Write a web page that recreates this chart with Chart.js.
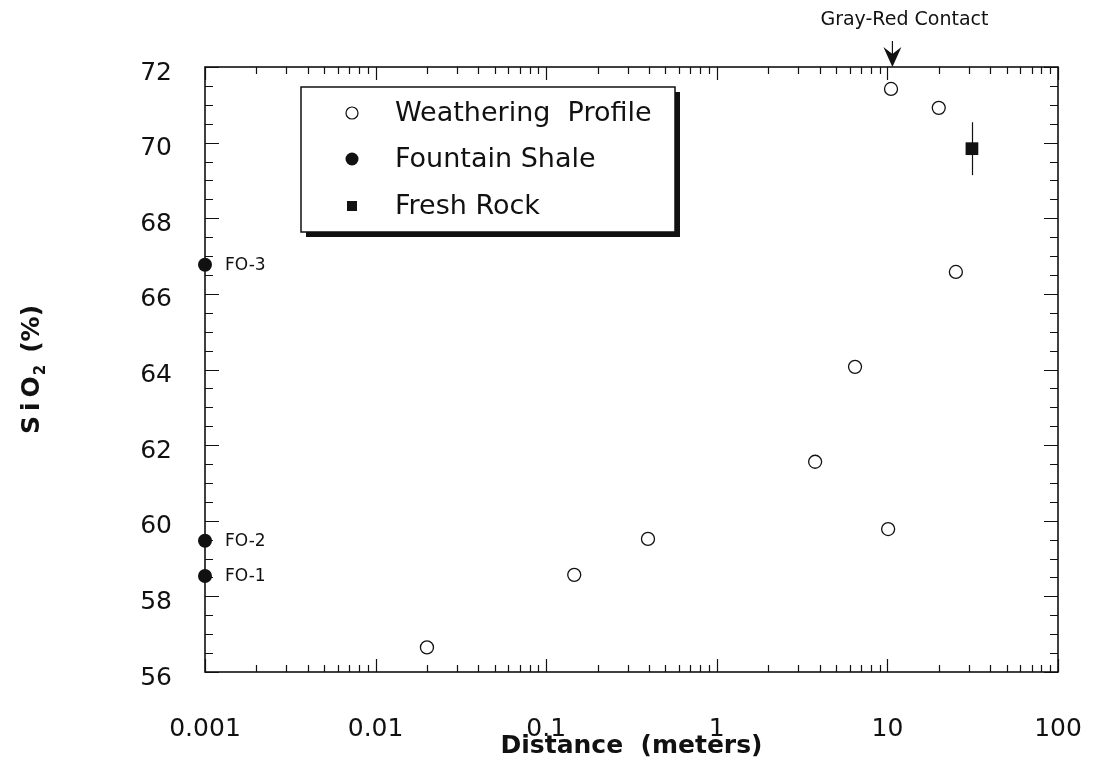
<!DOCTYPE html>
<html>
<head>
<meta charset="utf-8">
<script src="https://cdn.jsdelivr.net/npm/chart.js@4.4.1/dist/chart.umd.min.js"></script>
<style>
  html, body { margin: 0; padding: 0; background: #fff; }
  #wrap { width: 1096px; height: 775px; }
</style>
</head>
<body>
<div id="wrap"><canvas id="chart" width="1096" height="775"></canvas></div>
<script>
// weathering profile samples (open circles)
const weatherX = [0.02, 0.146, 0.395, 3.77, 6.46, 10.1, 10.5, 20, 25.2];
const weatherY = [56.65, 58.57, 59.52, 61.56, 64.07, 59.78, 71.42, 70.92, 66.58];

// fountain shale samples, plotted at the left edge
const shaleX = [0.001, 0.001, 0.001];
const shaleY = [58.54, 59.47, 66.77];
const shaleLabels = ['FO-1', 'FO-2', 'FO-3'];

// fresh rock, with its error bar
const freshX = [31.3];
const freshY = [69.84];
const freshErr = [0.7];

const contactX = 10.7;
const contactLabel = 'Gray-Red Contact';

const xTickValues = [0.001, 0.01, 0.1, 1, 10, 100];
const xTickLabels = ['0.001', '0.01', '0.1', '1', '10', '100'];
const yTickValues = [56, 58, 60, 62, 64, 66, 68, 70, 72];

const INK = '#111';
const FONT = '"DejaVu Sans", sans-serif';

const toPts = (xs, ys) => xs.map((x, i) => ({ x: x, y: ys[i] }));

// frame, inward ticks on all four sides, error bar
const framePlugin = {
    id: 'frame',
    beforeDatasetsDraw(chart) {
        const ctx = chart.ctx;
        const { left, right, top, bottom } = chart.chartArea;
        const xs = chart.scales.x, ys = chart.scales.y;
        ctx.save();
        ctx.strokeStyle = INK;
        ctx.lineWidth = 1.2;
        // x ticks: decades long, 2..9 short
        for (let d = 0; d < xTickValues.length; d++) {
            const dec = xTickValues[d];
            for (let m = 1; m <= 9; m++) {
                const v = dec * m;
                if (v > xTickValues[xTickValues.length - 1] + 1e-9) break;
                const px = Math.round(xs.getPixelForValue(v)) + 0.5;
                const len = m === 1 ? 13 : 7;
                ctx.beginPath();
                ctx.moveTo(px, bottom); ctx.lineTo(px, bottom - len);
                ctx.moveTo(px, top); ctx.lineTo(px, top + len);
                ctx.stroke();
            }
        }
        // y ticks: every 2 long, every 0.5 short
        const yMin = yTickValues[0], yMax = yTickValues[yTickValues.length - 1];
        for (let v = yMin; v <= yMax + 1e-9; v += 0.5) {
            const py = Math.round(ys.getPixelForValue(v)) + 0.5;
            const len = (v % 2 === 0) ? 14 : 8;
            ctx.beginPath();
            ctx.moveTo(left, py); ctx.lineTo(left + len, py);
            ctx.moveTo(right, py); ctx.lineTo(right - len, py);
            ctx.stroke();
        }
        ctx.lineWidth = 1.6;
        ctx.strokeRect(left, top, right - left, bottom - top);

        // fresh rock error bar
        ctx.lineWidth = 1.2;
        freshX.forEach((x, i) => {
            const px = Math.round(xs.getPixelForValue(x)) + 0.5;
            ctx.beginPath();
            ctx.moveTo(px, ys.getPixelForValue(freshY[i] + freshErr[i]));
            ctx.lineTo(px, ys.getPixelForValue(freshY[i] - freshErr[i]));
            ctx.stroke();
        });
        ctx.restore();
    },
    afterDatasetsDraw(chart) {
        const ctx = chart.ctx;
        const { top, bottom } = chart.chartArea;
        const xs = chart.scales.x, ys = chart.scales.y;
        ctx.save();
        ctx.fillStyle = INK;
        ctx.strokeStyle = INK;

        // sample names next to the shale points
        ctx.font = '17px ' + FONT;
        ctx.textAlign = 'left';
        ctx.textBaseline = 'middle';
        shaleX.forEach((x, i) => {
            ctx.fillText(shaleLabels[i], xs.getPixelForValue(x) + 20, ys.getPixelForValue(shaleY[i]) + 1);
        });

        // gray-red contact arrow
        const ax = xs.getPixelForValue(contactX);
        ctx.lineWidth = 1.2;
        ctx.beginPath();
        ctx.moveTo(ax, top - 26); ctx.lineTo(ax, top - 10);
        ctx.stroke();
        ctx.beginPath();
        ctx.moveTo(ax - 9, top - 20);
        ctx.lineTo(ax, top - 13);
        ctx.lineTo(ax + 9, top - 20);
        ctx.lineTo(ax, top);
        ctx.closePath();
        ctx.fill();
        ctx.font = '19px ' + FONT;
        ctx.textAlign = 'center';
        ctx.textBaseline = 'middle';
        ctx.fillText(contactLabel, ax + 12, top - 47);

        // legend box with drop shadow
        const lx = 301, ly = 87, lw = 374, lh = 145;
        ctx.fillRect(lx + 5, ly + 5, lw, lh);
        ctx.fillStyle = '#fff';
        ctx.fillRect(lx, ly, lw, lh);
        ctx.lineWidth = 1.5;
        ctx.strokeRect(lx, ly, lw, lh);
        ctx.fillStyle = INK;
        const rows = [26, 72, 119];
        ctx.font = '27px ' + FONT;
        ctx.textAlign = 'left';
        chart.data.datasets.forEach((ds, i) => {
            const cy = ly + rows[i];
            const cx = lx + 51;
            ctx.beginPath();
            if (ds.pointStyle === 'rect') {
                ctx.fillRect(cx - 5, cy - 5, 10, 10);
            } else if (ds.legendFilled) {
                ctx.arc(cx, cy, 6.5, 0, Math.PI * 2);
                ctx.fill();
            } else {
                ctx.lineWidth = 1.2;
                ctx.arc(cx, cy, 6, 0, Math.PI * 2);
                ctx.stroke();
            }
            ctx.fillText(ds.label, lx + 94, cy + 1);
        });

        // y axis title with subscript
        ctx.translate(32, (top + bottom) / 2);
        ctx.rotate(-Math.PI / 2);
        ctx.textBaseline = 'middle';
        const big = 'bold 25px ' + FONT, small = 'bold 15px ' + FONT;
        const parts = [['S', big, 0, 5], ['i', big, 0, 5], ['O', big, 0, 1], ['2', small, 9, 12], ['(%)', big, 0, 0]];
        let total = 0;
        parts.forEach(p => { ctx.font = p[1]; total += ctx.measureText(p[0]).width + p[3]; });
        let tx = -total / 2;
        parts.forEach(p => {
            ctx.font = p[1];
            ctx.fillText(p[0], tx, p[2]);
            tx += ctx.measureText(p[0]).width + p[3];
        });
        ctx.restore();
    }
};

new Chart(document.getElementById('chart'), {
    type: 'scatter',
    data: {
        datasets: [
            {
                label: 'Weathering  Profile',
                data: toPts(weatherX, weatherY),
                pointStyle: 'circle',
                pointRadius: 6.5,
                pointBackgroundColor: 'rgba(255,255,255,0)',
                pointBorderColor: INK,
                pointBorderWidth: 1.3,
                clip: false
            },
            {
                label: 'Fountain Shale',
                data: toPts(shaleX, shaleY),
                pointStyle: 'circle',
                pointRadius: 7,
                pointBackgroundColor: INK,
                pointBorderColor: INK,
                pointBorderWidth: 0,
                legendFilled: true,
                clip: false
            },
            {
                label: 'Fresh Rock',
                data: toPts(freshX, freshY),
                pointStyle: 'rect',
                pointRadius: 9,
                pointBackgroundColor: INK,
                pointBorderColor: INK,
                pointBorderWidth: 0,
                clip: false
            }
        ]
    },
    options: {
        responsive: false,
        animation: false,
        events: [],
        layout: { padding: { top: 67, right: 38, left: 0, bottom: 0 } },
        plugins: {
            legend: { display: false },
            tooltip: { enabled: false }
        },
        scales: {
            x: {
                type: 'logarithmic',
                min: xTickValues[0],
                max: xTickValues[xTickValues.length - 1],
                afterBuildTicks: (scale) => {
                    scale.ticks = xTickValues.map(v => ({ value: v, major: true }));
                },
                afterFit: (scale) => {
                    scale.height = 103;
                    scale.paddingLeft = 0;
                    scale.paddingRight = 0;
                },
                grid: { display: false },
                border: { display: false },
                ticks: {
                    autoSkip: false,
                    maxRotation: 0,
                    padding: 34,
                    color: INK,
                    font: { family: FONT, size: 25 },
                    callback: (v) => {
                        const i = xTickValues.findIndex(t => Math.abs(t - v) / t < 1e-6);
                        return i >= 0 ? xTickLabels[i] : '';
                    }
                },
                title: {
                    display: true,
                    text: 'Distance  (meters)',
                    color: INK,
                    font: { family: FONT, size: 25, weight: 'bold' },
                    padding: { top: 0, bottom: 14 }
                }
            },
            y: {
                min: yTickValues[0],
                max: yTickValues[yTickValues.length - 1],
                afterBuildTicks: (scale) => {
                    scale.ticks = yTickValues.map(v => ({ value: v }));
                },
                afterFit: (scale) => {
                    scale.width = 205;
                    scale.paddingTop = 0;
                    scale.paddingBottom = 0;
                },
                grid: { display: false },
                border: { display: false },
                ticks: {
                    padding: 25,
                    labelOffset: 6,
                    color: INK,
                    font: { family: FONT, size: 25 }
                }
            }
        }
    },
    plugins: [framePlugin]
});
</script>
</body>
</html>
